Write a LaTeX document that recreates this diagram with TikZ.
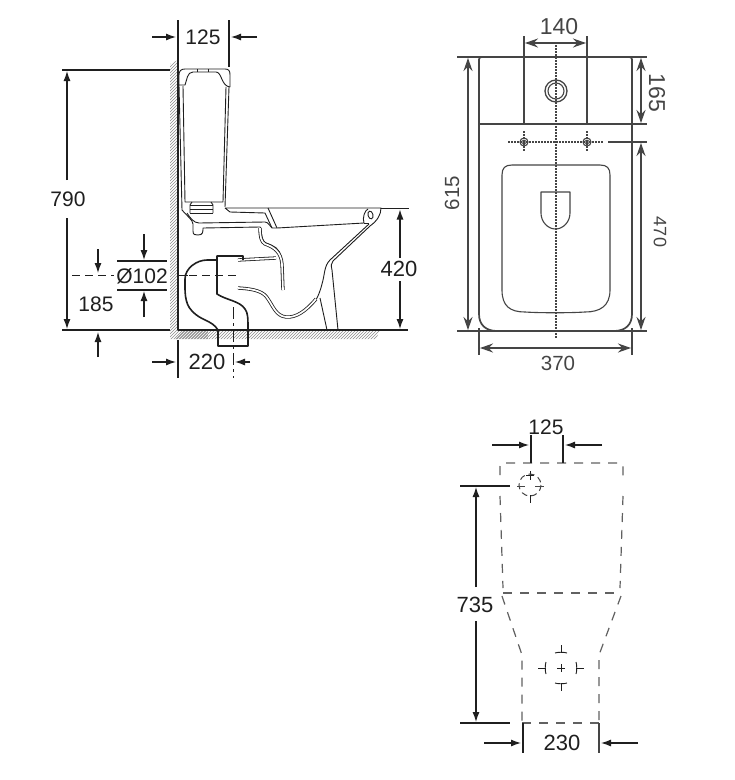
\documentclass[tikz,border=0pt]{standalone}
\usepackage{fontspec}
\setmainfont{Liberation Sans}
\usetikzlibrary{arrows.meta}
\definecolor{ink}{gray}{0.12}
\definecolor{soft}{gray}{0.27}
\definecolor{hatchc}{gray}{0.55}
\tikzset{
  every node/.style={inner sep=0pt,text=ink},
  dimtext/.style={font=\fontsize{21}{21}\selectfont},
  dimbig/.style={font=\fontsize{22}{22}\selectfont},
  dimsmall/.style={font=\fontsize{20.5}{20}\selectfont,text=soft},
  obj/.style={draw=ink,line width=.9pt,line join=round},
  thick obj/.style={draw=ink,line width=1.6pt,line join=round},
  dimline/.style={draw=ink,line width=1.2pt},
  arr/.style={draw=ink,line width=1.2pt,-{Latex[length=10pt,width=7pt]}},
  tarr/.style={draw=soft,line width=1.2pt,{Stealth[length=13pt,width=9pt]}-{Stealth[length=13pt,width=9pt]}},
  top/.style={draw=soft,line width=1.1pt,line join=round},
  topb/.style={draw=soft,line width=1.7pt,line join=round},
  dots/.style={draw=soft,line width=1.1pt,dash pattern=on 1.5pt off 1.5pt},
  dashy/.style={draw=soft!85,line width=1.2pt,dash pattern=on 9pt off 8pt},
  cdash/.style={draw=ink,line width=1.1pt,dash pattern=on 8pt off 5pt},
  tube/.style={draw=ink,line width=.8pt,double=white,double distance=1.7pt,line join=round},
}
\begin{document}
\begin{tikzpicture}[x=1pt,y=-1pt]
\useasboundingbox (0,0) rectangle (735,780);
\fill[white] (0,0) rectangle (735,780);
% hatching
\begin{scope}
\clip (170,64) -- (178,60) -- (178,330) -- (380,330) -- (376,339) -- (170,339) -- cycle;
\foreach \k in {60,63,...,560}{
  \draw[hatchc,line width=.5pt] (168,\k) -- ++(40,-40);
  \draw[hatchc,line width=.5pt] (\k-60+170,345) -- ++(20,-20);
}
\end{scope}
% wall and floor
\draw[thick obj] (178,20) -- (178,330) -- (380,330);
% side view: tank lid
\draw[obj] (179,85) -- (179,75) .. controls (179,71) and (181,69) .. (185,69) -- (225,69) .. controls (229,69) and (230,71) .. (230,75) -- (230,87);
\draw[obj] (179,85) -- (185,85) .. controls (187,80) and (187,72) .. (193,72) -- (216,72) .. controls (222,72) and (221,86) .. (230,87);
\draw[obj] (197,69) -- (197,72) (208,69) -- (208,72);
% tank
\draw[obj] (179,85) -- (182,210);
\draw[obj] (229,87) -- (225,207);
\draw[obj] (183,86) -- (185,202) -- (223,202) -- (226,87);
% valve
\draw[obj] (190,205) -- (213,205) (190,209) -- (213,209) (190,213) -- (213,213);
\draw[obj] (192,202) -- (190,205) -- (190,213) (211,202) -- (213,205) -- (213,213);
% tank base and bowl channel
\draw[obj] (182,210) .. controls (186,215) and (193,220) .. (193,224) -- (193,231) .. controls (193,235) and (195,235) .. (198,235) .. controls (203,235) and (203,232) .. (203,228) -- (260,227) .. controls (262,227) and (260,240) .. (266,243) .. controls (274,246) and (280,248) .. (281,258);
\draw[obj] (187,213) .. controls (190,218) and (194,223) .. (199,223) -- (265,222) .. controls (268,222) and (270,226) .. (272,228);
\draw[obj] (225,208) -- (268,208) (225,208) -- (230,212);
\draw[obj] (230,212) -- (265,213) -- (272,228);
\draw[obj] (268,208) -- (277,228);
% bowl
\draw[obj] (268,208) -- (381,208) .. controls (381,215) and (377,221) .. (370,226) -- (333,261) .. controls (331,263) and (331,266) .. (332,270) -- (338,330);
\draw[obj] (272,228) -- (277,228) -- (364,223) .. controls (362,218) and (365,210) .. (368,209);
\draw[obj] (364,223) -- (369,223);
\draw[obj,rotate around={15:(370.5,215)}] (370.5,215) ellipse (2.5 and 4);
\draw[obj] (369,224) -- (330,260) .. controls (324,266) and (325,274) .. (322,284) .. controls (320,292) and (318,296) .. (316,300);
\draw[obj] (320,298) -- (327,330);
\draw[tube] (316,299) .. controls (306,311) and (296,318) .. (286,317) .. controls (276,316) and (273,306) .. (268,299) .. controls (264,292) and (256,289) .. (238,288);
% upper pipe arm
\draw[tube] (238,260) -- (276,258);
\draw[tube] (283,290) -- (282,264) .. controls (281,252) and (274,247) .. (265,244) .. controls (261,242) and (260,236) .. (260,228);
% pipe
\draw[thick obj] (243,260) -- (243,256) -- (217,256) -- (217,294) .. controls (226,300) and (240,301) .. (245,309) .. controls (248,313) and (248,318) .. (248,330) -- (248,346) -- (218,346) -- (218,330) .. controls (212,320) and (201,321) .. (192,311) .. controls (184,303) and (185,290) .. (185,279) .. controls (185,268) and (197,260) .. (207,260) -- (217,260);
% centre lines, side view
\draw[cdash] (72,275.5) -- (114,275.5);
\draw[ink,line width=1pt] (178,275.5) -- (188,275.5);
\draw[cdash] (189,275.5) -- (238,275.5);
\draw[draw=ink,line width=1pt,dash pattern=on 12pt off 4pt on 3pt off 4pt] (233,307) -- (233,378);
% side view dims
\draw[dimline] (229,20) -- (229,67);
\draw[arr] (152,37) -- (176,37);
\draw[arr] (257,37) -- (231,37);
\node[dimtext] (d125a) at (203,37) {125};
\draw[dimline] (62,70) -- (170,70);
\draw[dimline] (62,330) -- (170,330);
\draw[arr] (67,180) -- (67,71);
\draw[arr] (67,218) -- (67,329);
\node[dimtext] (d790) at (68,199) {790};
\draw[dimline] (117,261) -- (167,261) (117,290) -- (167,290);
\node[dimtext] (d102) at (142,276) {Ø102};
\draw[arr] (144,234) -- (144,260);
\draw[arr] (144,317) -- (144,291);
\draw[arr] (98,249) -- (98,273);
\node[dimtext] (d185) at (96,304) {185};
\draw[arr] (98,357) -- (98,332);
\draw[dimline] (178,340) -- (178,378);
\draw[arr] (152,362) -- (176,362);
\draw[arr] (250,362) -- (235,362);
\node[dimbig] (d220) at (207,362) {220};
\draw[dimline] (381,208.5) -- (409,208.5) (380,330) -- (408,330);
\draw[arr] (400,258) -- (400,209.5);
\draw[arr] (400,281) -- (400,329);
\node[dimbig] (d420) at (399,269) {420};
% top view
\draw[topb,rounded corners=2.5pt] (479,124) -- (479,57) -- (632,57) -- (632,124);
\draw[topb] (479,124) -- (632,124);
\draw[topb] (479,124) -- (479,314) .. controls (479,325) and (486,331) .. (497,331) -- (614,331) .. controls (625,331) and (632,325) .. (632,314) -- (632,124);
\draw[top] (502,290) -- (502,175) .. controls (502,168) and (505,165) .. (512,165) -- (600,165) .. controls (607,165) and (610,168) .. (610,175) -- (610,290) .. controls (610,306) and (600,312) .. (585,312) .. controls (570,313) and (540,313) .. (525,312) .. controls (510,312) and (502,306) .. (502,290) -- cycle;
\draw[top] (541,192) -- (570,192) -- (570,213) .. controls (570,222) and (563,229) .. (555.5,229) .. controls (548,229) and (541,222) .. (541,213) -- cycle;
\draw[top,line width=1.3pt] (556,91) circle (11);
\draw[top] (556,91) circle (8);
\draw[dots] (556,45) -- (556,338);
\draw[dots] (508,142) -- (603,142);
\foreach \bx in {524,587}{
  \draw[dots] (\bx,131) -- (\bx,152);
  \draw[top] (\bx,142) circle (4);
  \draw[top,line width=.6pt] (\bx,142) circle (2);
}
\draw[top] (524,36) -- (524,124) (587,36) -- (587,124);
\draw[tarr] (525,43) -- (586,43);
\node[font=\fontsize{23}{23}\selectfont,text=soft] (d140) at (559,27) {140};
\draw[top] (457,57) -- (647,57) (632,124) -- (647,124) (608,142) -- (647,142) (457,331) -- (647,331);
\draw[tarr] (468,58) -- (468,330);
\node[dimsmall,rotate=90] (d615) at (452,193) {615};
\draw[tarr] (641,58) -- (641,123);
\node[font=\fontsize{23}{23}\selectfont,text=soft,rotate=-90] (d165) at (657,93) {165};
\draw[tarr] (641,143) -- (641,330);
\node[font=\fontsize{18}{18}\selectfont,text=soft,rotate=-90] (d470) at (660,232) {470};
\draw[top] (479,328) -- (479,355) (632,328) -- (632,355);
\draw[tarr] (480,348) -- (631,348);
\node[dimsmall] (d370) at (558,363) {370};
% bottom view
\draw[dashy] (500,475) -- (500,468) .. controls (500,464) and (500,463) .. (504,463) -- (619,463) .. controls (623,463) and (623,464) .. (623,468) -- (623,480);
\draw[dashy] (500,496) -- (503,588);
\draw[dashy] (623,496) -- (620,588);
\draw[dashy] (503,593) -- (620,593);
\draw[dashy] (502,596) -- (522,655) -- (522,723);
\draw[dashy] (621,596) -- (599,655) -- (599,723);
\draw[dashy] (522,723) -- (599,723);
\draw[dimline] (460,486) -- (510,486);
\draw[dimline] (460,723) -- (510,723);
\draw[arr] (476,587) -- (476,487);
\draw[arr] (476,621) -- (476,722);
\node[dimbig] (d735) at (475,605) {735};
\draw[dimline] (531,435) -- (531,463) (563,435) -- (563,463);
\draw[arr] (492,445) -- (529,445);
\draw[arr] (602,445) -- (565,445);
\node[dimtext] (d125b) at (546,427) {125};
\draw[dimline] (523,723) -- (523,753);
\draw[dimline,draw=soft] (599,723) -- (599,753);
\draw[arr] (484,743) -- (521,743);
\draw[arr] (638,743) -- (601,743);
\node[dimbig] (d230) at (562,743) {230};
% upper hole marks
\draw[ink,line width=.9pt] (530,471) -- (530,480) (526,475) -- (534,475) (530,495) -- (530,503);
\draw[soft,line width=.9pt] (517,486) -- (525,486) (535,486) -- (544,486);
\draw[soft,line width=1pt,dash pattern=on 6pt off 4pt] (530,485) circle (11);
% lower hole marks
\draw[ink,line width=.9pt] (561,664) -- (561,672) (557,668) -- (565,668);
\draw[ink,line width=.9pt] (561,645) -- (561,653) (561,683) -- (561,691) (538,668) -- (546,668) (576,668) -- (584,668);
\draw[ink,line width=.9pt] (555,653) .. controls (558,652) and (564,652) .. (567,653);
\draw[ink,line width=.9pt] (555,683) .. controls (558,684) and (564,684) .. (567,683);
\draw[ink,line width=.9pt] (546,662) .. controls (545,665) and (545,671) .. (546,674);
\draw[ink,line width=.9pt] (576,662) .. controls (577,665) and (577,671) .. (576,674);
\end{tikzpicture}
\end{document}
